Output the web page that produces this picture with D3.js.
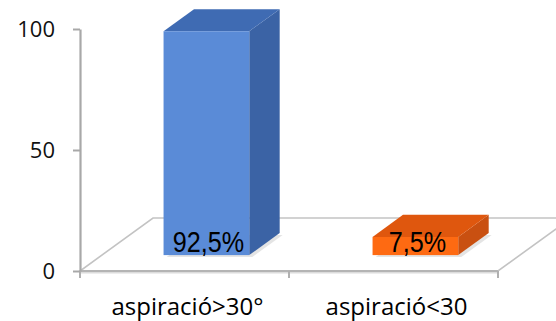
<!DOCTYPE html>
<html><head><meta charset="utf-8">
<script src="https://cdn.jsdelivr.net/npm/d3@7"></script>
<style>body{margin:0;background:#fff;} svg{display:block;}</style>
</head><body>
<svg id="c" width="556" height="321"></svg>
<script>
const categories = ["aspiració>30°", "aspiració<30"];
const values = [92.5, 7.5];
const valueLabels = ["92,5%", "7,5%"];
const yTicks = [0, 50, 100];

const svg = d3.select("#c");
const y = d3.scaleLinear().domain([0, 100]).range([271, 29]);
const x = d3.scaleBand().domain(categories).range([80, 498]).padding(0);
const depth = [73, -53];          // floor depth vector
const f0 = 0.30, f1 = 0.717;      // bar depth extent (fraction)
const P = (px, v, d) => [px + d * depth[0], y(v) + d * depth[1]];

const colors = [
  {front: "#5a8bd7", top: "#3f6bb3", side: "#3b63a5"},
  {front: "#fe6a12", top: "#df570e", side: "#c95011"}
];

const g = svg.append("g");
// floor
const x0 = x.range()[0], x1 = x.range()[1];
const floor = [P(x0,0,0), P(x1,0,0), P(x1,0,1), P(x0,0,1)];
g.append("path").attr("d", d3.line()(floor) + "Z")
  .attr("fill", "#fff").attr("stroke", "#c3c3c3").attr("stroke-width", 1.6);
g.append("line").attr("x1", x0).attr("x2", x1).attr("y1", y(0)+1.5).attr("y2", y(0)+1.5)
  .attr("stroke", "#dcdcdc").attr("stroke-width", 2);
g.append("line").attr("x1", x0).attr("x2", x1).attr("y1", y(0)).attr("y2", y(0))
  .attr("stroke", "#b4b4b4").attr("stroke-width", 2);

// x ticks at band boundaries
const bounds = categories.map(c => x(c)).concat([x1]);
g.selectAll(".xt").data(bounds).join("line")
  .attr("x1", d => d).attr("x2", d => d)
  .attr("y1", y(0)).attr("y2", y(0) + 7)
  .attr("stroke", "#b0b0b0").attr("stroke-width", 2);

// y axis
const yAxis = d3.axisLeft(y).tickValues(yTicks).tickSize(7).tickSizeOuter(0).tickPadding(18);
const ya = g.append("g").attr("transform", `translate(${x0},0)`).call(yAxis);
ya.select(".domain").attr("stroke", "#a8a8a8").attr("stroke-width", 2.2);
ya.selectAll(".tick line").attr("stroke", "#a8a8a8").attr("stroke-width", 2);
ya.selectAll(".tick text").attr("fill", "#111")
  .style("font-family", "'Open Sans', sans-serif").style("font-size", "22px");

// bars
const bw = x.bandwidth() * 0.41;
categories.forEach((c, i) => {
  const v = values[i];
  const xl = x(c) + (x.bandwidth() - bw) / 2, xr = xl + bw;
  const col = colors[i];
  const bg = g.append("g");
  bg.append("path").attr("d", d3.line()([P(xl+2,0,f0), P(xr+2,0,f0), P(xr+2,0,f1), P(xl+2,0,f1)]) + "Z")
    .attr("transform", "translate(1,2)").attr("fill", "#d8d8d8").attr("opacity", 0.7);
  bg.append("path").attr("d", d3.line()([P(xr,0,f0), P(xr,0,f1), P(xr,v,f1), P(xr,v,f0)]) + "Z")
    .attr("fill", col.side);
  bg.append("path").attr("d", d3.line()([P(xl,v,f0), P(xr,v,f0), P(xr,v,f1), P(xl,v,f1)]) + "Z")
    .attr("fill", col.top);
  const fl = P(xl, v, f0), fb = P(xr, 0, f0);
  bg.append("rect").attr("x", fl[0]).attr("y", fl[1]).attr("width", fb[0]-fl[0]).attr("height", fb[1]-fl[1])
    .attr("fill", col.front);
  const cx = (fl[0]+fb[0])/2 + 2, cy = fb[1] - 3;
  bg.append("text").attr("transform", `translate(${cx},${cy}) scale(0.84,1)`)
    .attr("text-anchor", "middle").attr("fill", "#000")
    .style("font-family", "'Liberation Sans', Arial, sans-serif").style("font-size", "30px")
    .text(valueLabels[i]);
});

// category labels
g.selectAll(".cat").data(categories).join("text")
  .attr("x", d => x(d) + x.bandwidth()/2 + 3).attr("y", 315)
  .attr("text-anchor", "middle").attr("fill", "#000")
  .style("font-family", "'Open Sans', sans-serif").style("font-size", "24px")
  .text(d => d);
</script>
</body></html>
